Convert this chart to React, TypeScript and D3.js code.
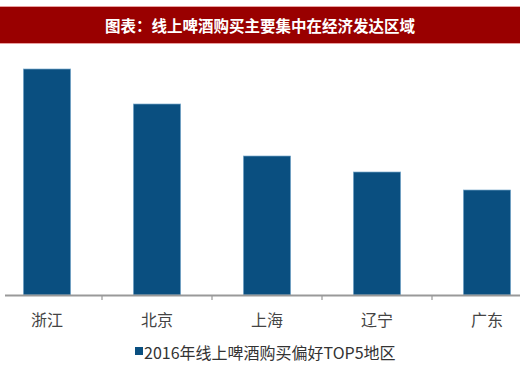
import * as d3 from "d3";
import React from "react";

const categories = ["浙江", "北京", "上海", "辽宁", "广东"];
const values = [226, 191, 139, 123, 105];
const title = "图表：线上啤酒购买主要集中在经济发达区域";
const legendLabel = "2016年线上啤酒购买偏好TOP5地区";

export default function App() {
  const width = 520;
  const height = 365;
  const baseY = 295;

  const x = d3
    .scaleBand<string>()
    .domain(categories)
    .range([-8, 542])
    .paddingInner(0.57)
    .paddingOuter(0.285);

  const y = d3.scaleLinear().domain([0, 226]).range([baseY, 69]);

  const step = x.step();
  const bw = x.bandwidth();
  const gap = (step - bw) / 2;

  return (
    <svg
      width={width}
      height={height}
      style={{ position: "absolute", left: 0, top: 0, background: "#fff" }}
    >
      {/* title bar */}
      <rect x={0} y={6} width={width} height={38} fill="#e8a0a0" />
      <rect x={0} y={7} width={width} height={36} fill="#990000" />
      <text
        x={width / 2}
        y={25}
        fill="#fff"
        fontSize={15.5}
        fontWeight="bold"
        textAnchor="middle"
        dominantBaseline="central"
        fontFamily="'Noto Sans CJK SC', sans-serif"
      >
        {title}
      </text>

      {/* bars */}
      {categories.map((c, i) => (
        <rect
          key={c}
          x={x(c)}
          y={y(values[i])}
          width={bw}
          height={baseY - y(values[i])}
          fill="#0a4f80"
          stroke="#7aa9cc"
          strokeWidth={0.7}
        />
      ))}

      {/* axis */}
      <line x1={5} x2={width} y1={baseY + 0.5} y2={baseY + 0.5} stroke="#999" strokeWidth={2} />
      {categories.slice(0, -1).map((c) => {
        const tx = (x(c) as number) + bw + gap;
        return (
          <line key={c} x1={tx} x2={tx} y1={baseY} y2={baseY + 5} stroke="#999" strokeWidth={1.2} />
        );
      })}
      {categories.map((c) => (
        <text
          key={c}
          x={(x(c) as number) + bw / 2}
          y={319}
          fontSize={16}
          fill="#444"
          textAnchor="middle"
          dominantBaseline="central"
          fontFamily="'Noto Sans CJK SC', sans-serif"
        >
          {c}
        </text>
      ))}

      {/* legend */}
      <rect x={135} y={347} width={8} height={8} fill="#0a4f80" />
      <text
        x={144}
        y={351.5}
        fontSize={16}
        fill="#333"
        dominantBaseline="central"
        fontFamily="'Noto Sans CJK SC', sans-serif"
      >
        {legendLabel}
      </text>
    </svg>
  );
}
